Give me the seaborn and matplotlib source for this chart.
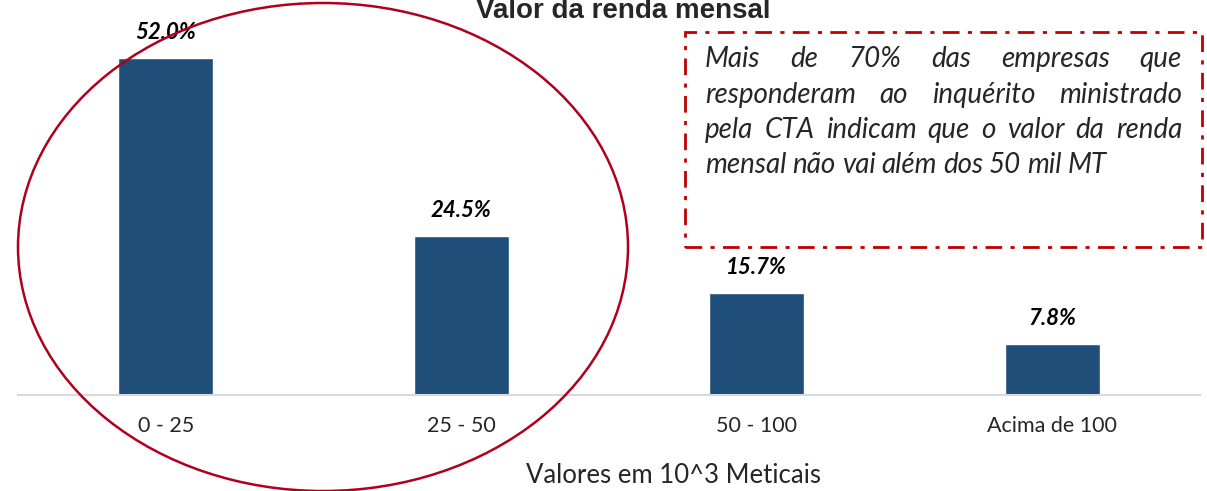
import numpy as np
import pandas as pd
import matplotlib
matplotlib.use("Agg")
import matplotlib.pyplot as plt
from matplotlib.patches import Ellipse, Rectangle
import seaborn as sns

# dados
categorias = ["0 - 25", "25 - 50", "50 - 100", "Acima de 100"]
valores = [52.0, 24.5, 15.7, 7.8]

titulo = "Valor da renda mensal"
eixo_x = "Valores em 10^3 Meticais"
nota = [
    "Mais de 70% das empresas que",
    "responderam ao inquérito ministrado",
    "pela CTA indicam que o valor da renda",
    "mensal não vai além dos 50 mil MT",
]

AZUL = "#1F4E79"
VERMELHO = "#C00000"
ELIPSE = "#B0001E"

sns.set_style("white")
plt.rcParams['font.family'] = ['Lato', 'DejaVu Sans']

df = pd.DataFrame({"faixa": categorias, "pct": valores})

fig = plt.figure(figsize=(12.07, 4.91), dpi=100)
ax = fig.add_axes([18/1207, 96/491, 1182/1207, 363/491])

sns.barplot(data=df, x="faixa", y="pct", color=AZUL, width=0.32,
            saturation=1, ax=ax)
ax.set_xlim(-0.5, 3.5)
ax.set_ylim(0, 56)

for c in ax.containers:
    ax.bar_label(c, fmt='%.1f%%', padding=11, fontsize=16,
                 fontweight='bold', fontstyle='italic', color='black')

sns.despine(ax=ax, left=True)
ax.spines['bottom'].set_color('#D9D9D9')
ax.spines['bottom'].set_linewidth(1.5)
ax.set_yticks([])
ax.tick_params(axis='x', length=0, pad=15, labelsize=15.5)
ax.set_xlabel("")
ax.set_ylabel("")

fig.text(623/1207, 1 - 18/491, titulo, ha='center', va='baseline',
         fontsize=20, fontweight='bold', family='Liberation Sans')
fig.text(674/1207, 1 - 483/491, eixo_x, ha='center', va='baseline',
         fontsize=18.5)

# elipse vermelha
fig.patches.append(Ellipse((323/1207, 1 - 247/491), 610/1207, 488/491,
                           transform=fig.transFigure, fill=False,
                           edgecolor=ELIPSE, linewidth=1.8))

# caixa tracejada
fig.patches.append(Rectangle((685/1207, 1 - 247/491), 517/1207, 215/491,
                             transform=fig.transFigure, fill=False,
                             edgecolor=VERMELHO, linewidth=2,
                             linestyle=(0, (6, 3, 1.5, 3))))

# texto justificado
fig.canvas.draw()
r = fig.canvas.get_renderer()
x0, x1 = 705, 1182
ys = [67, 103, 138, 173]
for i, linha in enumerate(nota):
    palavras = linha.split()
    objs = [fig.text(0, 1 - ys[i]/491, p, fontsize=20, fontstyle='italic',
                     va='baseline', ha='left') for p in palavras]
    larg = [o.get_window_extent(r).width for o in objs]
    if i < len(nota) - 1:
        gap = (x1 - x0 - sum(larg)) / (len(palavras) - 1)
    else:
        gap = 6
    x = x0
    for o, w in zip(objs, larg):
        o.set_x(x/1207)
        x += w + gap

fig.savefig("out.png", dpi=100)
